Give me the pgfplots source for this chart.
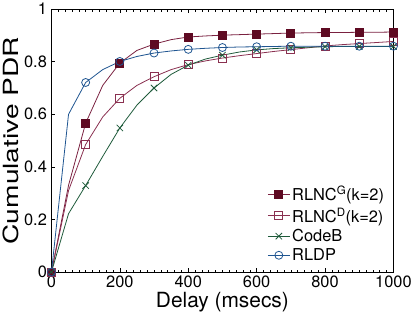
\documentclass[border=0pt]{standalone}
\usepackage{pgfplots}
\pgfplotsset{compat=1.18}
\usepackage{fontspec}
\setmainfont{TeX Gyre Heros}
\definecolor{cG}{HTML}{5E0A22}
\definecolor{cGl}{HTML}{7A2140}
\definecolor{cD}{HTML}{8A3050}
\definecolor{cC}{HTML}{1E5A3A}
\definecolor{cR}{HTML}{1F5591}
\begin{document}
\begin{tikzpicture}
\begin{axis}[
  scale only axis,
  width=342.6bp, height=263.4bp,
  xmin=0, xmax=1000, ymin=0, ymax=1,
  xtick={0,200,...,1000},
  ytick={0,0.2,...,1},
  yticklabels={0,0.2,0.4,0.6,0.8,1},
  minor x tick num=9,
  xtick pos=both, ytick pos=left,
  tick align=inside,
  major tick length=4bp, minor tick length=2.5bp,
  tick style={black, line width=0.6pt},
  axis line style={black, line width=0.8pt},
  /pgf/number format/assume math mode=true,
  /pgf/number format/1000 sep={},
  ticklabel style={font=\fontsize{16.5}{18}\selectfont},
  xticklabel style={yshift=0bp},
  yticklabel style={xshift=-1bp},
  xlabel={Delay (msecs)},
  ylabel={\scalebox{1.35}[1]{Cumulative PDR}},
  label style={font=\fontsize{21}{24}\selectfont},
  xlabel style={yshift=2bp},
  ylabel style={yshift=-2bp},
  legend style={at={(0.979,0.03)}, anchor=south east, draw=none, fill=none,
    font=\fontsize{16.5}{18}\selectfont, inner sep=0pt, row sep=1.5bp,
    legend cell align=left},
  legend image code/.code={\draw[mark repeat=2,mark phase=2] plot coordinates {(0bp,0bp)(11bp,0bp)(22bp,0bp)};},
  mark repeat=2,
  every axis plot/.append style={line width=0.8pt},
]
\addplot[color=cGl, mark=square*, mark size=4bp, mark options={fill=cG, draw=cG, solid}] coordinates {
(0,0)(50,0.33)(100,0.566)(150,0.71)(200,0.795)(250,0.843)(300,0.867)(350,0.884)(400,0.894)(450,0.898)(500,0.901)(550,0.903)(600,0.905)(650,0.907)(700,0.909)(750,0.910)(800,0.911)(850,0.911)(900,0.912)(950,0.912)(1000,0.913)};
\addlegendentry{RLNC\textsuperscript{G}(k=2)}
\addplot[color=cD, mark=square, mark size=4bp, mark options={fill=white}] coordinates {
(0,0)(50,0.31)(100,0.485)(150,0.59)(200,0.661)(250,0.71)(300,0.743)(350,0.77)(400,0.789)(450,0.803)(500,0.814)(550,0.823)(600,0.831)(650,0.839)(700,0.846)(750,0.853)(800,0.86)(850,0.865)(900,0.869)(950,0.873)(1000,0.877)};
\addlegendentry{RLNC\textsuperscript{D}(k=2)}
\addplot[color=cC, mark=x, mark size=4.5bp] coordinates {
(0,0)(50,0.222)(100,0.329)(150,0.44)(200,0.548)(250,0.635)(300,0.70)(350,0.752)(400,0.787)(450,0.81)(500,0.825)(550,0.837)(600,0.845)(650,0.85)(700,0.853)(750,0.855)(800,0.857)(850,0.858)(900,0.858)(950,0.858)(1000,0.858)};
\addlegendentry{CodeB}
\addplot[color=cR, mark=o, mark size=4bp, mark options={fill=white}] coordinates {
(0,0)(50,0.60)(100,0.721)(150,0.77)(200,0.801)(250,0.82)(300,0.833)(350,0.841)(400,0.847)(450,0.851)(500,0.854)(550,0.856)(600,0.857)(650,0.858)(700,0.859)(750,0.859)(800,0.859)(850,0.859)(900,0.859)(950,0.859)(1000,0.859)};
\addlegendentry{RLDP}
\end{axis}
\end{tikzpicture}
\end{document}
